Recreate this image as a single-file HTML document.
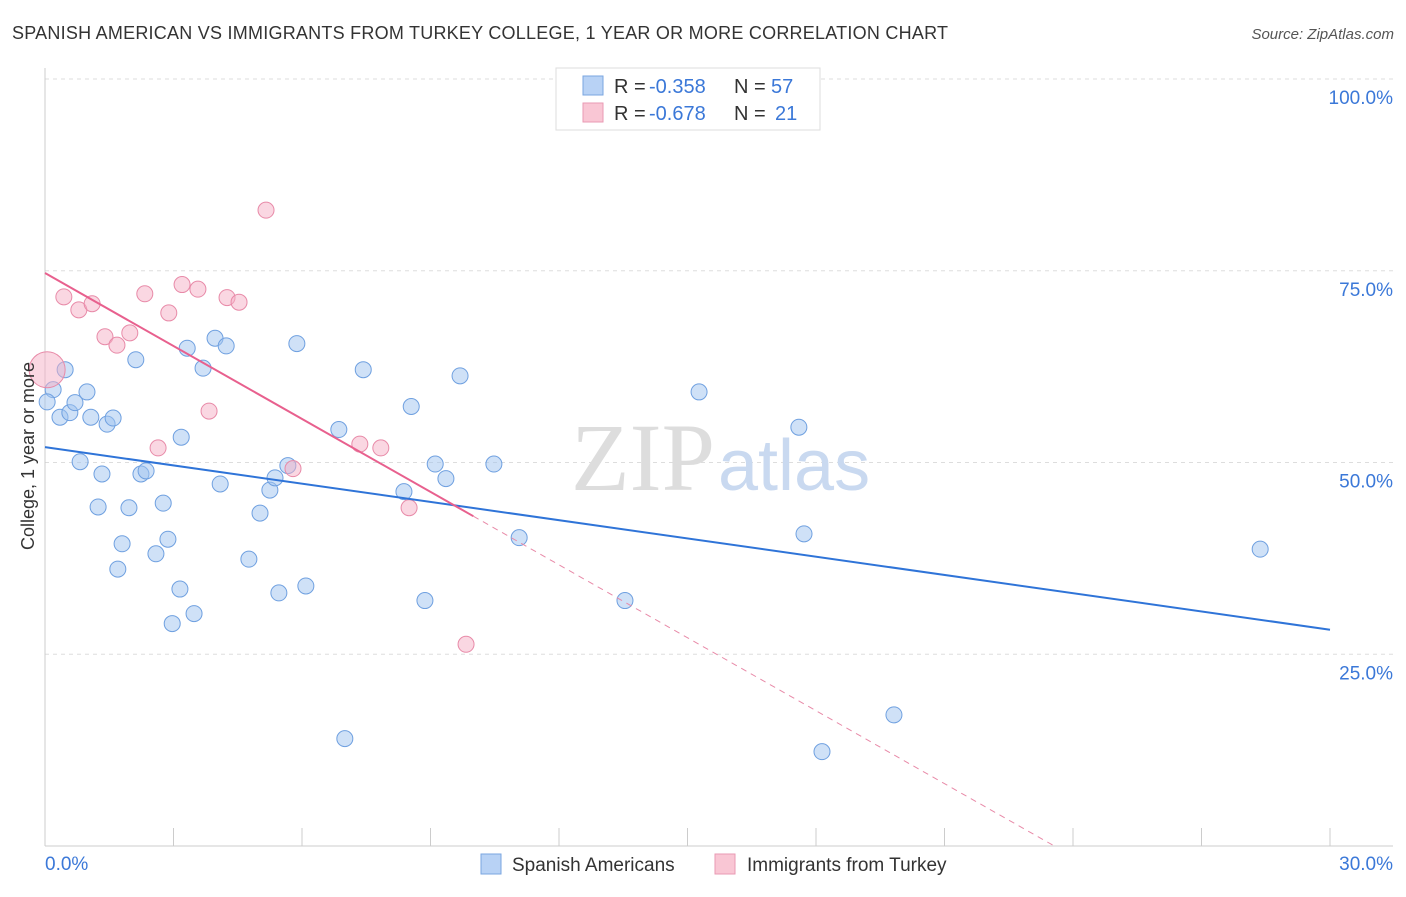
<!DOCTYPE html>
<html><head><meta charset="utf-8"><style>
body{margin:0;background:#fff;font-family:"Liberation Sans",sans-serif}
svg text{font-family:"Liberation Sans",sans-serif}
</style></head><body>
<svg id="c" width="1406" height="892">
<text x="12" y="39" font-size="18" fill="#333" textLength="936">SPANISH AMERICAN VS IMMIGRANTS FROM TURKEY COLLEGE, 1 YEAR OR MORE CORRELATION CHART</text>
<text x="1394" y="39" font-size="15" fill="#555" font-style="italic" text-anchor="end">Source: ZipAtlas.com</text>
<g id="grid"></g>
<g id="wm">
<text x="715" y="490" font-size="96" fill="#ddd" text-anchor="end" font-family="Liberation Serif" style="font-family:'Liberation Serif',serif">ZIP</text>
<text x="718" y="490" font-size="72" fill="#c9d9f0">atlas</text>
</g>
<g id="axes"></g>
<g id="pts"></g>
<g id="lines"></g>
<text transform="translate(34,456) rotate(-90)" font-size="18" fill="#333" text-anchor="middle">College, 1 year or more</text>
<g>
<rect x="556" y="68" width="264" height="62" fill="#fff" stroke="#ddd"/>
<rect x="583" y="76" width="20" height="19" fill="#b8d2f5" stroke="#7aa6e0"/>
<text x="614" y="93" font-size="20" fill="#333">R =</text>
<text x="649" y="93" font-size="20" fill="#3b78d8">-0.358</text>
<text x="734" y="93" font-size="20" fill="#333">N =</text>
<text x="771" y="93" font-size="20" fill="#3b78d8">57</text>
<rect x="583" y="103" width="20" height="19" fill="#f9c6d4" stroke="#e99ab3"/>
<text x="614" y="120" font-size="20" fill="#333">R =</text>
<text x="649" y="120" font-size="20" fill="#3b78d8">-0.678</text>
<text x="734" y="120" font-size="20" fill="#333">N =</text>
<text x="775" y="120" font-size="20" fill="#3b78d8">21</text>
</g>
<g>
<rect x="481" y="854" width="20" height="20" fill="#b8d2f5" stroke="#7aa6e0"/>
<text x="512" y="871" font-size="19" fill="#333">Spanish Americans</text>
<rect x="715" y="854" width="20" height="20" fill="#f9c6d4" stroke="#e99ab3"/>
<text x="747" y="871" font-size="19" fill="#333">Immigrants from Turkey</text>
</g>
</svg>
<script>
const blueX=[0.19,0.05,0.47,0.35,0.58,0.70,0.98,1.07,0.82,1.33,1.45,1.59,1.24,2.12,1.80,1.70,1.96,2.24,2.36,2.76,2.59,2.87,3.18,3.32,3.15,2.97,3.48,3.69,3.97,4.23,4.09,4.76,5.02,5.25,5.37,5.67,5.46,5.88,6.09,6.86,7.43,7.00,8.38,8.55,8.87,9.11,9.36,9.69,10.48,11.07,13.54,15.27,17.60,17.72,18.14,19.82,28.37];
const blueY=[59.5,57.9,62.1,55.9,56.5,57.8,59.2,55.9,50.1,48.5,55.0,55.8,44.2,63.4,39.4,36.1,44.1,48.5,48.9,44.7,38.1,40.0,53.3,64.9,33.5,29.0,30.3,62.3,66.2,65.2,47.2,37.4,43.4,46.4,48.0,49.6,33.0,65.5,33.9,54.3,62.1,14.0,46.2,57.3,32.0,49.8,47.9,61.3,49.8,40.2,32.0,59.2,54.6,40.7,12.3,17.1,38.7];
const pinkX=[0.05,0.44,0.79,1.10,1.40,1.68,1.98,2.33,2.64,2.89,3.20,3.57,3.83,4.25,4.53,5.16,5.79,7.35,7.84,8.50,9.83];
const pinkY=[62.1,71.6,69.9,70.7,66.4,65.3,66.9,72.0,51.9,69.5,73.2,72.6,56.7,71.5,70.9,82.9,49.2,52.4,51.9,44.1,26.3];
const blueTrend=[52.0,28.2];
const pinkTrend=[74.7,-3.17]; // intercept, slope per %
const pinkSolidEnd=10.0;
const yTicks=[25,50,75,100];
const xTickLabels=["0.0%","30.0%"];
const NS="http://www.w3.org/2000/svg";
const X0=45,X1=1330,Y0=846,Y100=79;
const sx=v=>X0+(X1-X0)*v/30;
const sy=v=>Y0-(Y0-Y100)*v/100;
function mk(tag,attrs,parent){const e=document.createElementNS(NS,tag);for(const k in attrs)e.setAttribute(k,attrs[k]);parent.appendChild(e);return e;}
const grid=document.getElementById('grid'),axes=document.getElementById('axes'),pts=document.getElementById('pts'),lines=document.getElementById('lines');
yTicks.forEach(t=>{
 const l=mk('line',{x1:X0,x2:1393,y1:sy(t),y2:sy(t),stroke:'#ddd','stroke-dasharray':'4,4'},grid);
 
 
 const tx=mk('text',{x:1393,y:sy(t)+25,'font-size':19,fill:'#3b78d8','text-anchor':'end'},axes);
 tx.textContent=t.toFixed(1)+'%';
 
 
});
mk('line',{x1:X0,x2:X0,y1:68,y2:Y0,stroke:'#ccc'},axes);
mk('line',{x1:X0,x2:1393,y1:Y0,y2:Y0,stroke:'#ccc'},axes);
for(let i=0;i<=10;i++){const l=mk('line',{x1:sx(i*3),x2:sx(i*3),y1:Y0,y2:Y0-18,stroke:'#ccc'},axes);
 
 }
[[X0,xTickLabels[0],'start'],[1393,xTickLabels[1],'end']].forEach(([x,s,a])=>{
 const t=mk('text',{x:x,y:870,'font-size':19,fill:'#3b78d8','text-anchor':a},axes);t.textContent=s;
 
 
});
blueX.forEach((v,i)=>{const c=mk('circle',{cx:sx(v),cy:sy(blueY[i]),r:8,fill:'rgba(160,195,240,0.5)',stroke:'#6fa0e0','stroke-width':1},pts);
 
 });
pinkX.forEach((v,i)=>{const c=mk('circle',{cx:sx(v),cy:sy(pinkY[i]),r:i===0?18:8,fill:'rgba(245,175,198,0.5)',stroke:'#e88aa8','stroke-width':1},pts);
 
 });
const b=mk('line',{x1:sx(0),y1:sy(blueTrend[0]),x2:sx(30),y2:sy(blueTrend[1]),stroke:'#2f74d8','stroke-width':2},lines);


const pf=x=>pinkTrend[0]+pinkTrend[1]*x;
const xEnd=-pinkTrend[0]/pinkTrend[1];
const pd=mk('line',{x1:sx(pinkSolidEnd),y1:sy(pf(pinkSolidEnd)),x2:sx(xEnd),y2:sy(0),stroke:'#e88aa8','stroke-width':1,'stroke-dasharray':'6,5'},lines);


const p=mk('line',{x1:sx(0),y1:sy(pf(0)),x2:sx(pinkSolidEnd),y2:sy(pf(pinkSolidEnd)),stroke:'#e8608e','stroke-width':2},lines);


</script>
</body></html>
